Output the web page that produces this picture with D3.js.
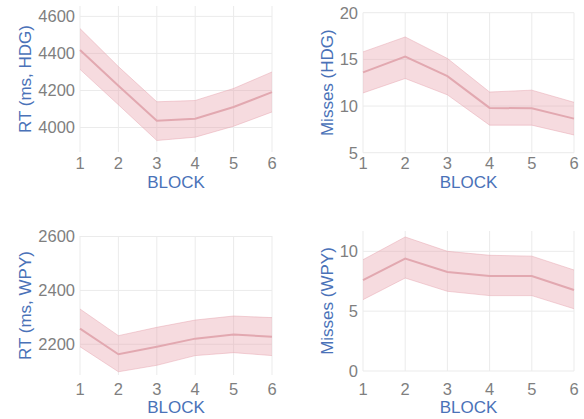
<!DOCTYPE html>
<html>
<head>
<meta charset="utf-8">
<script src="https://cdn.jsdelivr.net/npm/d3@7"></script>
<style>
  body { margin: 0; background: #fff; }
  svg { display: block; font-family: "Liberation Sans", Arial, sans-serif; }
  .grid line { stroke: #ebebeb; stroke-width: 1; }
  .tick-label { fill: #7f7f7f; font-size: 16.5px; }
  .axis-title { fill: #4a72b8; font-size: 17px; }
</style>
</head>
<body>
<div id="chart"></div>
<script>
var blocks = [1, 2, 3, 4, 5, 6];

// RT (ms, HDG)
var rtHdgMean = [4418, 4225, 4037, 4048, 4111, 4191];
var rtHdgLow  = [4314, 4123, 3930, 3948, 4007, 4084];
var rtHdgHigh = [4534, 4329, 4139, 4146, 4211, 4300];
var rtHdgTicks = [4000, 4200, 4400, 4600];

// Misses (HDG)
var missHdgMean = [13.6, 15.3, 13.2, 9.8, 9.75, 8.65];
var missHdgLow  = [11.4, 12.95, 11.2, 7.95, 7.95, 6.9];
var missHdgHigh = [15.8, 17.4, 15.1, 11.5, 11.7, 10.4];
var missHdgTicks = [5, 10, 15, 20];

// RT (ms, WPY)
var rtWpyMean = [2258, 2163, 2191, 2221, 2236, 2228];
var rtWpyLow  = [2191, 2098, 2122, 2158, 2169, 2158];
var rtWpyHigh = [2331, 2232, 2263, 2290, 2305, 2299];
var rtWpyTicks = [2200, 2400, 2600];

// Misses (WPY)
var missWpyMean = [7.6, 9.4, 8.27, 7.94, 7.94, 6.77];
var missWpyLow  = [5.96, 7.77, 6.66, 6.3, 6.3, 5.2];
var missWpyHigh = [9.3, 11.2, 10.0, 9.67, 9.6, 8.44];
var missWpyTicks = [0, 5, 10];

var width = 584, height = 419;

var panels = [
  { title: "RT (ms, HDG)", mean: rtHdgMean, low: rtHdgLow, high: rtHdgHigh, ticks: rtHdgTicks,
    domain: [3868, 4656], x0: 80, x1: 272, y0: 6, y1: 152, titleX: 25, xTickY: 169, blockY: 188 },
  { title: "Misses (HDG)", mean: missHdgMean, low: missHdgLow, high: missHdgHigh, ticks: missHdgTicks,
    domain: [5, 20], x0: 363, x1: 574, y0: 12.7, y1: 152.7, titleX: 327, xTickY: 169, blockY: 188 },
  { title: "RT (ms, WPY)", mean: rtWpyMean, low: rtWpyLow, high: rtWpyHigh, ticks: rtWpyTicks,
    domain: [2086, 2602], x0: 80, x1: 272, y0: 236, y1: 375, titleX: 25, xTickY: 394.5, blockY: 413 },
  { title: "Misses (WPY)", mean: missWpyMean, low: missWpyLow, high: missWpyHigh, ticks: missWpyTicks,
    domain: [0, 11.7], x0: 363, x1: 574, y0: 231, y1: 371, titleX: 327, xTickY: 394.5, blockY: 413 }
];

var svg = d3.select("#chart").append("svg")
            .attr("width", width)
            .attr("height", height);

panels.forEach(function(p) {
  var x = d3.scaleLinear().domain([1, 6]).range([p.x0, p.x1]);
  var y = d3.scaleLinear().domain(p.domain).range([p.y1, p.y0]);
  var g = svg.append("g");

  // gridlines
  var grid = g.append("g").attr("class", "grid");
  grid.selectAll("line.v")
      .data(blocks)
    .enter().append("line")
      .attr("class", "v")
      .attr("x1", d => x(d)).attr("x2", d => x(d))
      .attr("y1", p.y0).attr("y2", p.y1);
  grid.selectAll("line.h")
      .data(p.ticks)
    .enter().append("line")
      .attr("class", "h")
      .attr("x1", p.x0).attr("x2", p.x1)
      .attr("y1", d => y(d)).attr("y2", d => y(d));

  var rows = blocks.map((b, i) => ({ b: b, m: p.mean[i], lo: p.low[i], hi: p.high[i] }));

  var area = d3.area()
               .x(d => x(d.b))
               .y0(d => y(d.lo))
               .y1(d => y(d.hi));

  g.append("path")
   .datum(rows)
   .attr("d", area)
   .style("fill", "rgb(232,160,172)")
   .style("fill-opacity", 0.38);

  ["lo", "hi"].forEach(function(k) {
    g.append("path")
     .datum(rows)
     .attr("d", d3.line().x(d => x(d.b)).y(d => y(d[k])))
     .style("fill", "none")
     .style("stroke", "rgb(228,160,170)")
     .style("stroke-opacity", 0.45)
     .style("stroke-width", 1);
  });

  g.append("path")
   .datum(rows)
   .attr("d", d3.line().x(d => x(d.b)).y(d => y(d.m)))
   .style("fill", "none")
   .style("stroke", "rgb(226,168,176)")
   .style("stroke-width", 2);

  // y tick labels
  g.selectAll("text.ytick")
      .data(p.ticks)
    .enter().append("text")
      .attr("class", "tick-label")
      .attr("x", p.x0 - 5)
      .attr("y", d => y(d))
      .attr("dy", "0.36em")
      .attr("text-anchor", "end")
      .text(d => d);

  // x tick labels
  g.selectAll("text.xtick")
      .data(blocks)
    .enter().append("text")
      .attr("class", "tick-label")
      .attr("x", d => x(d))
      .attr("y", p.xTickY)
      .attr("text-anchor", "middle")
      .text(d => d);

  g.append("text")
   .attr("class", "axis-title")
   .attr("x", (p.x0 + p.x1) / 2)
   .attr("y", p.blockY)
   .attr("text-anchor", "middle")
   .text("BLOCK");

  g.append("text")
   .attr("class", "axis-title")
   .attr("transform", "translate(" + p.titleX + "," + ((p.y0 + p.y1) / 2) + ") rotate(-90)")
   .attr("dy", "0.36em")
   .attr("text-anchor", "middle")
   .text(p.title);
});
</script>
</body>
</html>
